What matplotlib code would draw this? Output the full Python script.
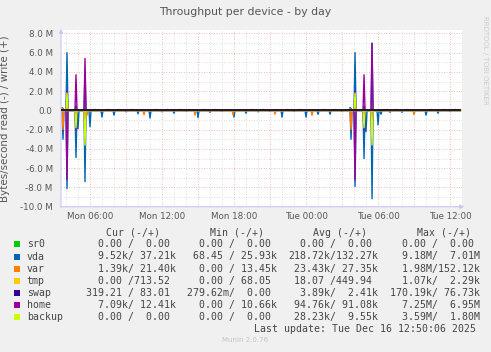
import numpy as np
import matplotlib
matplotlib.use("Agg")
import matplotlib.pyplot as plt
from matplotlib.ticker import MultipleLocator, FixedLocator, FuncFormatter
from matplotlib.patches import Rectangle

# ---------------- data ----------------
start_time = "Mon 03:35"      # first 5-minute sample
step_minutes = 5
n_samples = 400

devices = ["sr0", "vda", "var", "tmp", "swap", "home", "backup"]
colors = ["#00CC00", "#0066B3", "#FF8000", "#FFCC00", "#330099", "#990099", "#CCFF00"]

# (time, read MB/s, write MB/s) -- read is drawn negative
sr0_events = []
vda_events = [
    ("Mon 03:40", 0.0, 0.3), ("Mon 03:45", 3.0, 0.2), ("Mon 04:05", 8.1, 6.0),
    ("Mon 04:50", 4.9, 0.5), ("Mon 05:00", 1.9, 0.0), ("Mon 05:35", 7.4, 4.0),
    ("Mon 06:00", 1.7, 0.0), ("Mon 07:00", 0.7, 0.0), ("Mon 08:00", 0.5, 0.0),
    ("Mon 09:00", 0.15, 0.0), ("Mon 10:00", 0.35, 0.0), ("Mon 11:00", 0.8, 0.0),
    ("Mon 12:00", 0.15, 0.0), ("Mon 13:00", 0.3, 0.0), ("Mon 14:00", 0.1, 0.0),
    ("Mon 15:00", 0.75, 0.0), ("Mon 16:00", 0.2, 0.0), ("Mon 17:00", 0.1, 0.0),
    ("Mon 18:00", 0.7, 0.0), ("Mon 19:00", 0.3, 0.0), ("Mon 20:00", 0.15, 0.0),
    ("Mon 21:00", 0.1, 0.0), ("Mon 22:00", 0.7, 0.0), ("Mon 23:00", 0.1, 0.0),
    ("Tue 00:00", 0.7, 0.0), ("Tue 01:00", 0.4, 0.0), ("Tue 02:00", 0.4, 0.0),
    ("Tue 03:00", 0.1, 0.0), ("Tue 03:40", 0.0, 0.3), ("Tue 03:45", 3.0, 0.2),
    ("Tue 04:05", 7.9, 6.0), ("Tue 04:50", 5.0, 0.5), ("Tue 05:00", 2.2, 0.0),
    ("Tue 05:30", 9.18, 7.01), ("Tue 06:00", 1.5, 0.0), ("Tue 06:15", 0.4, 0.0),
    ("Tue 07:00", 0.2, 0.0), ("Tue 08:00", 0.2, 0.0), ("Tue 09:00", 0.3, 0.0),
    ("Tue 10:00", 0.5, 0.0), ("Tue 11:00", 0.3, 0.0), ("Tue 12:00", 0.1, 0.0),
]
var_events = [
    ("Mon 03:40", 0.0, 0.25), ("Mon 03:45", 1.98, 0.0), ("Mon 05:45", 0.5, 0.0),
    ("Mon 10:30", 0.45, 0.0), ("Mon 14:45", 0.5, 0.0), ("Mon 17:55", 0.45, 0.0),
    ("Mon 21:25", 0.4, 0.0), ("Tue 00:30", 0.5, 0.0), ("Tue 03:40", 0.0, 0.2),
    ("Tue 03:45", 2.0, 0.0), ("Tue 09:00", 0.45, 0.0),
    # small periodic write blips along the zero line
    ("Mon 06:25", 0.0, 0.12), ("Mon 07:25", 0.0, 0.12), ("Mon 08:25", 0.0, 0.12),
    ("Mon 09:25", 0.0, 0.12), ("Mon 11:25", 0.0, 0.12), ("Mon 12:25", 0.0, 0.12),
    ("Mon 13:25", 0.0, 0.12), ("Mon 15:25", 0.0, 0.12), ("Mon 16:25", 0.0, 0.12),
    ("Mon 19:25", 0.0, 0.12), ("Mon 20:25", 0.0, 0.12), ("Mon 22:25", 0.0, 0.12),
    ("Mon 23:25", 0.0, 0.12), ("Tue 01:25", 0.0, 0.12), ("Tue 02:25", 0.0, 0.12),
    ("Tue 06:45", 0.0, 0.12), ("Tue 07:25", 0.0, 0.12), ("Tue 08:25", 0.0, 0.12),
    ("Tue 10:25", 0.0, 0.12), ("Tue 11:25", 0.0, 0.12), ("Tue 12:25", 0.0, 0.12),
]
tmp_events = []
swap_events = []
home_events = [
    ("Mon 04:05", 7.2, 2.0), ("Mon 04:50", 2.0, 3.7), ("Mon 05:35", 3.0, 5.4),
    ("Tue 04:05", 7.25, 2.0), ("Tue 04:50", 2.0, 3.7), ("Tue 05:30", 3.0, 6.95),
]
backup_events = [
    ("Mon 04:05", 0.0, 1.8), ("Mon 04:50", 1.8, 0.0), ("Mon 05:35", 3.6, 0.0),
    ("Tue 04:05", 0.0, 1.8), ("Tue 04:50", 1.8, 0.0), ("Tue 05:30", 3.59, 0.0),
]
all_events = [sr0_events, vda_events, var_events, tmp_events,
              swap_events, home_events, backup_events]

x_tick_hours = [6, 12, 18, 24, 30, 36]
x_tick_labels = ["Mon 06:00", "Mon 12:00", "Mon 18:00",
                 "Tue 00:00", "Tue 06:00", "Tue 12:00"]

legend_cur = ["  0.00 /  0.00 ", "  9.52k/ 37.21k", "  1.39k/ 21.40k", "  0.00 /713.52 ",
              "319.21 / 83.01 ", "  7.09k/ 12.41k", "  0.00 /  0.00 "]
legend_min = ["  0.00 /  0.00 ", " 68.45 / 25.93k", "  0.00 / 13.45k", "  0.00 / 68.05 ",
              "279.62m/  0.00 ", "  0.00 / 10.66k", "  0.00 /  0.00 "]
legend_avg = ["  0.00 /  0.00 ", "218.72k/132.27k", " 23.43k/ 27.35k", " 18.07 /449.94 ",
              "  3.89k/  2.41k", " 94.76k/ 91.08k", " 28.23k/  9.55k"]
legend_max = ["  0.00 /  0.00 ", "  9.18M/  7.01M", "  1.98M/152.12k", "  1.07k/  2.29k",
              "170.19k/ 76.73k", "  7.25M/  6.95M", "  3.59M/  1.80M"]
last_update = "Last update: Tue Dec 16 12:50:06 2025"

# ---------------- helpers ----------------
def to_hours(s):
    day, hm = s.split()
    h, m = hm.split(":")
    return {"Mon": 0, "Tue": 24}[day] + int(h) + int(m) / 60.0

t0 = to_hours(start_time)
t = t0 + np.arange(n_samples) * step_minutes / 60.0

def build(events):
    r = np.zeros(n_samples)
    w = np.zeros(n_samples)
    for ts, rv, wv in events:
        i = int(round((to_hours(ts) - t0) * 60 / step_minutes))
        r[i] = max(r[i], rv)
        w[i] = max(w[i], wv)
    return r, w

# ---------------- figure ----------------
W, H = 491, 352
fig = plt.figure(figsize=(W / 100, H / 100), dpi=100, facecolor="#F0F0F0")
ax = fig.add_axes([61 / W, 1 - 206.7 / H, 401 / W, (206.7 - 30) / H])
ax.set_facecolor("white")

for ev, c, name in zip(all_events, colors, devices):
    if name == "swap":
        continue
    r, w = build(ev)
    ax.plot(t, -r, color=c, lw=1.0, zorder=3)
    ax.plot(t, w, color=c, lw=1.0, zorder=3)
r, w = build(swap_events)
ax.plot(t, -r, color=colors[4], lw=1.1, zorder=5)
ax.plot(t, w, color="#111133", lw=1.1, zorder=5)

ax.set_xlim(t0, t0 + n_samples * step_minutes / 60.0 + 0.08)
ax.set_ylim(-10, 8.35)

ax.xaxis.set_major_locator(FixedLocator(x_tick_hours))
ax.xaxis.set_minor_locator(MultipleLocator(1))
ax.set_xticks(x_tick_hours)
ax.set_xticklabels(x_tick_labels)
ax.yaxis.set_major_locator(MultipleLocator(2))
ax.yaxis.set_minor_locator(MultipleLocator(1))
ax.yaxis.set_major_formatter(FuncFormatter(lambda v, p: "0.0" if abs(v) < 1e-9 else f"{v:.1f} M"))
ax.tick_params(axis="both", which="both", length=0, labelsize=6.3, labelcolor="#555555")
ax.tick_params(axis="x", pad=3.5)
ax.tick_params(axis="y", pad=6)
for s in ax.spines.values():
    s.set_visible(False)

dot = (0, (1, 2))
for y in np.arange(-10, 9, 1):
    col = "#e8a8a8" if y % 2 == 0 else "#d4d4d4"
    ax.axhline(y, color=col, lw=0.6, ls=dot, zorder=1)
for hh in range(4, 37):
    col = "#e8a8a8" if hh % 3 == 0 else "#d4d4d4"
    ax.axvline(hh, color=col, lw=0.6, ls=dot, zorder=1)

ax.set_ylabel("Bytes/second read (-) / write (+)", fontsize=7.4, color="#555555", labelpad=3)
ax.yaxis.set_label_coords(-0.128, 0.5)

# axis arrows
arrow_col = "#c8c8f4"
ax.annotate("", xy=(467, H - 206.7), xytext=(58, H - 206.7), xycoords="figure pixels",
            textcoords="figure pixels",
            arrowprops=dict(arrowstyle="-|>", color=arrow_col, lw=0.8, mutation_scale=6))
ax.annotate("", xy=(61, H - 26), xytext=(61, H - 210), xycoords="figure pixels",
            textcoords="figure pixels",
            arrowprops=dict(arrowstyle="-|>", color=arrow_col, lw=0.8, mutation_scale=6))

# title and watermark
fig.text(245 / W, 1 - 12 / H, "Throughput per device - by day", ha="center", va="center",
         fontsize=7.8, color="#555555")
fig.text(485 / W, 1 - 60 / H, "RRDTOOL / TOBI OETIKER", rotation=270, ha="center",
         va="center", fontsize=5, color="#cccccc")

# legend
mono = "DejaVu Sans Mono"
fs = 7.1
tc = "#444444"
headers = [(106, "Cur (-/+)"), (210, "Min (-/+)"), (313.3, "Avg (-/+)"), (416.7, "Max (-/+)")]
for xh, txt in headers:
    fig.text(xh / W, 1 - 232.7 / H, txt, family=mono, fontsize=fs, color=tc, va="center")
row_y = [244.3, 256.5, 268.6, 280.7, 292.7, 304.7, 316.7]
for k, name in enumerate(devices):
    y = row_y[k]
    fig.add_artist(Rectangle((14 / W, 1 - (y + 3) / H), 6 / W, 6 / H,
                             transform=fig.transFigure, color=colors[k], lw=0))
    fig.text(26.7 / W, 1 - y / H, name, family=mono, fontsize=fs, color=tc, va="center")
    for xc, col in zip([86.4, 187.4, 288.3, 389.7],
                       [legend_cur, legend_min, legend_avg, legend_max]):
        fig.text(xc / W, 1 - y / H, col[k], family=mono, fontsize=fs, color=tc, va="center")
fig.text(476 / W, 1 - 328.7 / H, last_update, family=mono, fontsize=fs, color=tc,
         va="center", ha="right")
fig.text(245 / W, 1 - 340.3 / H, "Munin 2.0.76", fontsize=5, color="#c4c4c4",
         ha="center", va="center")

fig.savefig("out.png", dpi=100, facecolor=fig.get_facecolor())
